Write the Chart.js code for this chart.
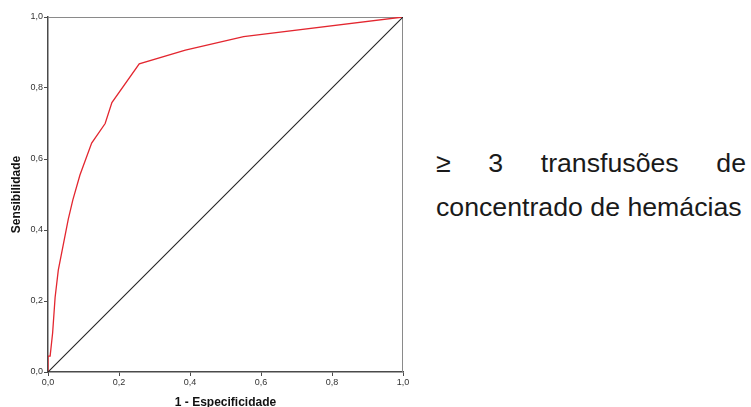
<!DOCTYPE html>
<html>
<head>
<meta charset="utf-8">
<script src="https://cdn.jsdelivr.net/npm/chart.js@4.4.1/dist/chart.umd.min.js"></script>
<style>
  html, body { margin: 0; padding: 0; background: #fff; }
  #wrap { position: relative; width: 751px; height: 407px; overflow: hidden; }
  #box { position: absolute; left: 0; top: 0; width: 420px; height: 407px; }
  .caption {
    position: absolute; left: 436px; width: 310px;
    font-family: "Liberation Sans", Arial, sans-serif; font-size: 26.7px;
    color: #1a1a1a; white-space: nowrap;
  }
  #l1 { top: 148px; text-align: justify; text-align-last: justify; white-space: normal; }
  #l2 { top: 192px; }
</style>
</head>
<body>
<div id="wrap">
  <div id="box"><canvas id="roc"></canvas></div>
  <div class="caption" id="l1">≥ 3 transfusões de</div>
  <div class="caption" id="l2">concentrado de hemácias</div>
</div>
<script>
// ROC curve: 1 - specificity (x) vs sensitivity (y)
const falsePositiveRate = [0, 0, 0.006, 0.013, 0.02, 0.029, 0.057, 0.07, 0.09, 0.123, 0.161, 0.18, 0.257, 0.387, 0.551, 1];
const sensitivity       = [0, 0.045, 0.045, 0.11, 0.21, 0.287, 0.43, 0.485, 0.555, 0.645, 0.70, 0.759, 0.868, 0.907, 0.945, 1];
// reference (chance) line
const refX = [0, 1];
const refY = [0, 1];
const tickValues = [0, 0.2, 0.4, 0.6, 0.8, 1.0];

const toPoints = (xs, ys) => xs.map((x, i) => ({ x: x, y: ys[i] }));
const fmt = v => v.toFixed(1).replace('.', ',');

// light frame around the plot area (top and right edges)
const frame = {
  id: 'frame',
  beforeDatasetsDraw(chart) {
    const { ctx, chartArea: a } = chart;
    ctx.save();
    ctx.strokeStyle = '#8a8a8a';
    ctx.lineWidth = 1;
    ctx.beginPath();
    ctx.moveTo(a.left, a.top + 0.5);
    ctx.lineTo(a.right - 0.5, a.top + 0.5);
    ctx.lineTo(a.right - 0.5, a.bottom);
    ctx.stroke();
    ctx.restore();
  }
};

const tickFont = { family: '"Liberation Sans", Arial, sans-serif', size: 9 };
const titleFont = { family: '"Liberation Sans", Arial, sans-serif', size: 12, weight: 'bold' };

new Chart(document.getElementById('roc'), {
  type: 'scatter',
  data: {
    datasets: [
      {
        data: toPoints(refX, refY),
        showLine: true,
        borderColor: '#222222',
        borderWidth: 1.1,
        pointRadius: 0,
        tension: 0
      },
      {
        data: toPoints(falsePositiveRate, sensitivity),
        showLine: true,
        borderColor: '#e3262f',
        borderWidth: 1.3,
        pointRadius: 0,
        tension: 0
      }
    ]
  },
  options: {
    responsive: true,
    maintainAspectRatio: false,
    animation: false,
    events: [],
    layout: { padding: { top: 17, right: 17, left: 0, bottom: 0 } },
    plugins: { legend: { display: false }, tooltip: { enabled: false } },
    scales: {
      x: {
        type: 'linear', min: 0, max: 1,
        afterBuildTicks: s => { s.ticks = tickValues.map(v => ({ value: v })); },
        afterFit: s => { s.height = 35; },
        border: { color: '#4a4a4a', width: 1.5 },
        grid: { drawOnChartArea: false, drawTicks: true, tickLength: 4, tickColor: '#4a4a4a' },
        ticks: { font: tickFont, color: '#333', padding: 1, maxRotation: 0, callback: v => fmt(v) },
        title: { display: true, text: '1 - Especificidade', font: titleFont, color: '#111', padding: { top: 9, bottom: -3 } }
      },
      y: {
        type: 'linear', min: 0, max: 1,
        afterBuildTicks: s => { s.ticks = tickValues.map(v => ({ value: v })); },
        afterFit: s => { s.width = 48; },
        border: { color: '#4a4a4a', width: 1.5 },
        grid: { drawOnChartArea: false, drawTicks: true, tickLength: 4, tickColor: '#4a4a4a' },
        ticks: { font: tickFont, color: '#333', padding: 1, callback: v => fmt(v) },
        title: { display: true, text: 'Sensibilidade', font: titleFont, color: '#111', padding: { top: 9, bottom: 2 } }
      }
    }
  },
  plugins: [frame]
});
</script>
</body>
</html>
